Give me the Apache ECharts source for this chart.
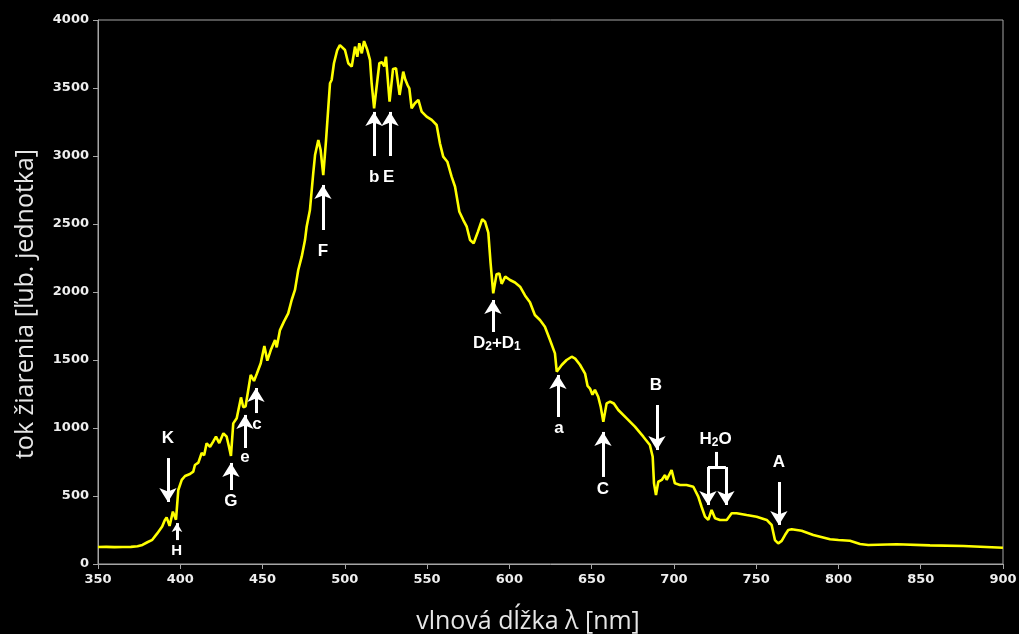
<!DOCTYPE html>
<html>
<head>
<meta charset="utf-8">
<script src="https://cdn.jsdelivr.net/npm/echarts@6/dist/echarts.min.js"></script>
<style>
  html, body { margin: 0; padding: 0; background: #000; }
  #chart { width: 1019px; height: 634px; }
</style>
</head>
<body>
<div id="chart"></div>
<script>
// Solar spectrum: wavelength [nm] and flux [arb. units]
const wavelength = [
  350, 355, 360, 365, 370, 374, 377, 380, 383, 386, 389, 390.5, 391.7, 393.5, 395.5, 397.4, 398.8,
  400.9, 402.9, 405.9, 407.9, 408.9, 411, 413, 414.5, 416, 418.1, 420, 421.7, 423.7, 426.2, 428.2,
  429.6, 430.8, 432.2, 434.3, 436.9, 438.3, 439.7, 442.8, 444.8, 446.4, 448.9, 451.1, 452.9, 455,
  457.6, 458.6, 460.6, 463, 465.6, 467.7, 469.7, 471.7, 473.8, 475.8, 476.8, 478.8, 480.8, 481.9,
  483.9, 485.3, 486.9, 488.6, 490, 491, 492, 493.4, 495.4, 497, 498.1, 500.1, 502.1, 504.2, 506.2,
  507.6, 508.8, 510.3, 511.7, 512.5, 513.7, 515.3, 516.3, 517.8, 519.8, 521, 522.5, 524, 525, 527.2,
  529.3, 531.1, 533.3, 535.5, 536.8, 538.2, 539.2, 540.6, 542.6, 544.7, 546.7, 549.7, 552.8, 555.8,
  557.8, 559.8, 562.3, 564.9, 567, 569.6, 572, 574.1, 576.1, 578.3, 580.8, 583.5, 585.2, 587.2,
  588.6, 590.2, 592.2, 593.9, 595.3, 597.5, 600.4, 603.4, 606.5, 609.5, 612.5, 615.5, 618.6, 621.6,
  624.7, 627.7, 628.8, 631.8, 634.8, 637.9, 640, 642.9, 646, 647.5, 649, 650.5, 652, 654, 655.5,
  657.1, 659.1, 661.2, 663.5, 666.2, 671.3, 676.3, 681.4, 685.4, 687.1, 687.9, 689.1, 690.5, 692.6,
  694.6, 695.6, 698.6, 700.6, 703.7, 707.7, 711.8, 714.8, 716.8, 718.9, 720.9, 722.9, 725, 728,
  732.1, 735.1, 738.1, 744.2, 750.3, 756.4, 759.4, 761.4, 763.4, 765.5, 767.5, 769.5, 771.6, 777.6,
  784.7, 794.9, 800, 807, 813.1, 818.1, 835.4, 855.6, 875.9, 900
];
const flux = [
  125, 126, 124, 125, 126, 130, 140, 160, 178, 225, 275, 320, 343, 280, 385, 326, 544,
  618, 647, 662, 679, 728, 745, 816, 800, 887, 862, 900, 936, 889, 961, 936,
  862, 794, 1034, 1071, 1225, 1152, 1160, 1390, 1346, 1395, 1476, 1603, 1495, 1573,
  1647, 1593, 1720, 1782, 1843, 1941, 2015, 2162, 2260, 2382, 2480, 2603, 2873, 3007,
  3118, 3044, 2860, 3118, 3363, 3535, 3559, 3682, 3779, 3815, 3824, 3779, 3682, 3657, 3804,
  3730, 3829, 3755, 3845, 3853, 3779, 3706, 3535, 3351, 3559, 3682, 3690, 3660, 3730, 3399,
  3640, 3645, 3449, 3620, 3560, 3520, 3498, 3351, 3388, 3412, 3326, 3289, 3265, 3228,
  3093, 2995, 2958, 2848, 2774, 2590, 2529, 2480, 2382, 2358, 2440, 2535, 2517, 2437,
  2211, 1990, 2130, 2137, 2060, 2113, 2088, 2070, 2039, 1975, 1925, 1831, 1794, 1745,
  1647, 1549, 1414, 1463, 1500, 1524, 1510, 1465, 1400, 1310, 1290, 1245, 1280, 1230, 1157,
  1046, 1181, 1194, 1180, 1132, 1071, 1010, 936, 875, 789, 593, 507, 605, 618,
  654, 618, 691, 593, 581, 581, 568, 495, 421, 348, 324, 397, 336, 324,
  324, 373, 373, 360, 348, 324, 287, 176, 152, 170, 213, 250, 255, 245,
  213, 182, 176, 171, 147, 140, 145, 137, 132, 120
];

// Axis ticks
const xTicks = { min: 350, max: 900, step: 50 };
const yTicks = { min: 0, max: 4000, step: 500 };

// Fraunhofer line markers: label, arrow x [nm], arrow tail / tip flux
const lineNames   = ['K', 'H', 'G', 'e', 'c', 'F', 'b', 'E', 'D', 'a', 'C', 'B', 'A'];
const arrowX      = [392.5, 398, 430.8, 439.3, 446, 486.7, 517.7, 527.5, 590, 629.5, 656.9, 689.7, 763.8];
const arrowTail   = [779, 176, 544, 853, 1110, 2456, 3000, 3000, 1706, 1081, 640, 1169, 603];
const arrowTip    = [456, 301, 743, 1096, 1294, 2787, 3324, 3324, 1941, 1390, 971, 838, 287];
const labelX      = [392.5, 397.8, 430.8, 439.3, 446.6, 486.7, 517.9, 526.7, 592.4, 630.1, 656.9, 689.1, 763.8];
const labelY      = [926, 96, 463, 787, 1029, 2301, 2846, 2846, 1625, 1000, 551, 1316, 750];

// Water band bracket (H2O)
const waterX = [720.7, 725.6, 731.6];
const waterY = { label: 919, top: 824, bar: 713, tip: 434 };

const textColor = '#eeeeee';
const axisColor = '#a6a6a6';
const labelFont = 'Liberation Sans, Arial, sans-serif';

const series = wavelength.map((w, i) => [w, flux[i]]);

// arrows
const arrowLines = arrowX.map((x, i) => {
  const small = lineNames[i] === 'H';
  return [
    { coord: [x, arrowTail[i]], symbol: 'none' },
    { coord: [x, arrowTip[i]], symbol: 'arrow', symbolSize: small ? [8, 9] : [13, 14] }
  ];
});
arrowLines.push(
  [{ coord: [waterX[1], waterY.top], symbol: 'none' }, { coord: [waterX[1], waterY.bar], symbol: 'none' }],
  [{ coord: [waterX[0], waterY.bar], symbol: 'none' }, { coord: [waterX[2], waterY.bar], symbol: 'none' }],
  [{ coord: [waterX[0], waterY.bar], symbol: 'none' }, { coord: [waterX[0], waterY.tip], symbol: 'arrow', symbolSize: [13, 14] }],
  [{ coord: [waterX[2], waterY.bar], symbol: 'none' }, { coord: [waterX[2], waterY.tip], symbol: 'arrow', symbolSize: [13, 14] }]
);

const richText = {
  n: { fontSize: 17, fontWeight: 'bold', color: '#ffffff', fontFamily: labelFont, lineHeight: 20 },
  s: { fontSize: 12, fontWeight: 'bold', color: '#ffffff', fontFamily: labelFont, lineHeight: 8, verticalAlign: 'bottom' },
  m: { fontSize: 15, fontWeight: 'bold', color: '#ffffff', fontFamily: labelFont, lineHeight: 20 }
};

const labelText = {
  D: '{n|D}{s|2}{n|+D}{s|1}',
  H: '{m|H}'
};

const points = lineNames.map((name, i) => ({
  coord: [labelX[i], labelY[i]],
  label: { formatter: labelText[name] || ('{n|' + name + '}') }
}));
points.push({ coord: [waterX[1] - 0.3, waterY.label], label: { formatter: '{n|H}{s|2}{n|O}' } });

const plainNumber = v => String(v);

const chart = echarts.init(document.getElementById('chart'));
chart.setOption({
  backgroundColor: '#000000',
  animation: false,
  grid: {
    left: 98, right: 16, top: 20, bottom: 70,
    containLabel: false,
    outerBoundsMode: 'none',
    show: true, borderColor: axisColor, borderWidth: 1, backgroundColor: 'transparent'
  },
  xAxis: {
    type: 'value',
    min: xTicks.min, max: xTicks.max, interval: xTicks.step,
    name: 'vlnová dĺžka λ [nm]',
    nameLocation: 'middle',
    nameGap: 45,
    nameTextStyle: { color: '#e6e6e6', fontSize: 25, fontFamily: 'Open Sans, sans-serif', padding: [0, 45, 0, 0] },
    axisLine: { lineStyle: { color: axisColor, width: 1 } },
    axisTick: { show: true, length: 5, lineStyle: { color: axisColor } },
    axisLabel: { color: textColor, fontSize: 13, fontWeight: 'bold', fontFamily: 'DejaVu Sans, sans-serif', margin: 9, formatter: plainNumber },
    splitLine: { show: false }
  },
  yAxis: {
    type: 'value',
    min: yTicks.min, max: yTicks.max, interval: yTicks.step,
    name: 'tok žiarenia [ľub. jednotka]',
    nameLocation: 'middle',
    nameGap: 60,
    nameTextStyle: { color: '#e6e6e6', fontSize: 25, fontFamily: 'Open Sans, sans-serif', padding: [0, 24, 0, 0] },
    axisLine: { show: true, lineStyle: { color: axisColor, width: 1 } },
    axisTick: { show: true, length: 5, lineStyle: { color: axisColor } },
    axisLabel: { color: textColor, fontSize: 13, fontWeight: 'bold', fontFamily: 'DejaVu Sans, sans-serif', margin: 9, formatter: plainNumber },
    splitLine: { show: false }
  },
  series: [{
    type: 'line',
    data: series,
    showSymbol: false,
    smooth: false,
    lineStyle: { color: '#ffff00', width: 2.6 },
    z: 3,
    markLine: {
      silent: true,
      animation: false,
      symbol: ['none', 'arrow'],
      lineStyle: { color: '#ffffff', width: 3, type: 'solid' },
      itemStyle: { color: '#ffffff' },
      label: { show: false },
      emphasis: { disabled: true },
      data: arrowLines
    },
    markPoint: {
      silent: true,
      animation: false,
      symbol: 'circle',
      symbolSize: 0,
      itemStyle: { color: 'transparent' },
      label: { show: true, position: 'inside', rich: richText },
      data: points
    }
  }]
});
</script>
</body>
</html>
